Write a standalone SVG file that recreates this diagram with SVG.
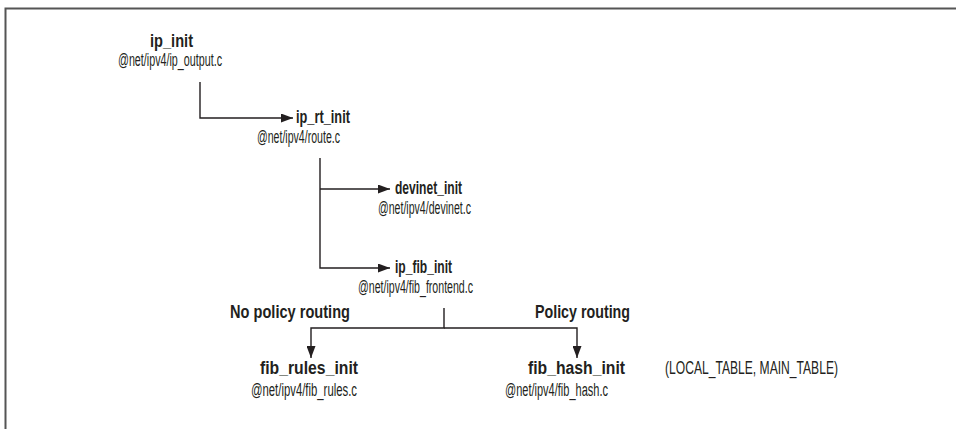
<svg xmlns="http://www.w3.org/2000/svg" width="956" height="429" viewBox="0 0 956 429">
<style>
text{font-family:"Liberation Sans Narrow","Liberation Sans",Arial,sans-serif;fill:#231f20}
.b{font-weight:bold;font-size:18px}
.r{font-size:18px}
.c{fill:none;stroke:#231f20;stroke-width:1.4}
</style>
<defs>
<marker id="ah" viewBox="0 0 12 9" refX="12" refY="4.5" markerWidth="12" markerHeight="9" markerUnits="userSpaceOnUse" orient="auto">
<path d="M0,0L12,4.5L0,9z" fill="#231f20"/>
</marker>
</defs>
<rect width="956" height="429" fill="#fff"/>
<path d="M5.5,429V8.5H956" fill="none" stroke="#555" stroke-width="2"/>
<g id="connectors">
<path class="c" d="M200,82V118H293" marker-end="url(#ah)"/>
<path class="c" d="M320,158V268H390" marker-end="url(#ah)"/>
<path class="c" d="M320,189H390" marker-end="url(#ah)"/>
<path class="c" d="M444,308V328H311V358" marker-end="url(#ah)"/>
<path class="c" d="M444,328H577V358" marker-end="url(#ah)"/>
</g>
<g id="ip_init">
<text class="b" x="150" y="47" textLength="43" lengthAdjust="spacingAndGlyphs">ip_init</text>
<text class="r" x="118" y="66" textLength="104" lengthAdjust="spacingAndGlyphs">@net/ipv4/ip_output.c</text>
</g>
<g id="ip_rt_init">
<text class="b" x="296" y="123" textLength="54" lengthAdjust="spacingAndGlyphs">ip_rt_init</text>
<text class="r" x="257" y="143" textLength="83" lengthAdjust="spacingAndGlyphs">@net/ipv4/route.c</text>
</g>
<g id="devinet_init">
<text class="b" x="395" y="194" textLength="67" lengthAdjust="spacingAndGlyphs">devinet_init</text>
<text class="r" x="378" y="214" textLength="93" lengthAdjust="spacingAndGlyphs">@net/ipv4/devinet.c</text>
</g>
<g id="ip_fib_init">
<text class="b" x="395" y="273" textLength="57" lengthAdjust="spacingAndGlyphs">ip_fib_init</text>
<text class="r" x="358" y="293" textLength="115" lengthAdjust="spacingAndGlyphs">@net/ipv4/fib_frontend.c</text>
</g>
<g id="labels">
<text class="b" x="230" y="318" textLength="120" lengthAdjust="spacingAndGlyphs">No policy routing</text>
<text class="b" x="535" y="318" textLength="95" lengthAdjust="spacingAndGlyphs">Policy routing</text>
</g>
<g id="fib_rules_init">
<text class="b" x="260" y="374" textLength="98" lengthAdjust="spacingAndGlyphs">fib_rules_init</text>
<text class="r" x="251" y="396" textLength="106" lengthAdjust="spacingAndGlyphs">@net/ipv4/fib_rules.c</text>
</g>
<g id="fib_hash_init">
<text class="b" x="528" y="374" textLength="97" lengthAdjust="spacingAndGlyphs">fib_hash_init</text>
<text class="r" x="665" y="374" textLength="173" lengthAdjust="spacingAndGlyphs">(LOCAL_TABLE, MAIN_TABLE)</text>
<text class="r" x="505" y="396" textLength="103" lengthAdjust="spacingAndGlyphs">@net/ipv4/fib_hash.c</text>
</g>
</svg>
